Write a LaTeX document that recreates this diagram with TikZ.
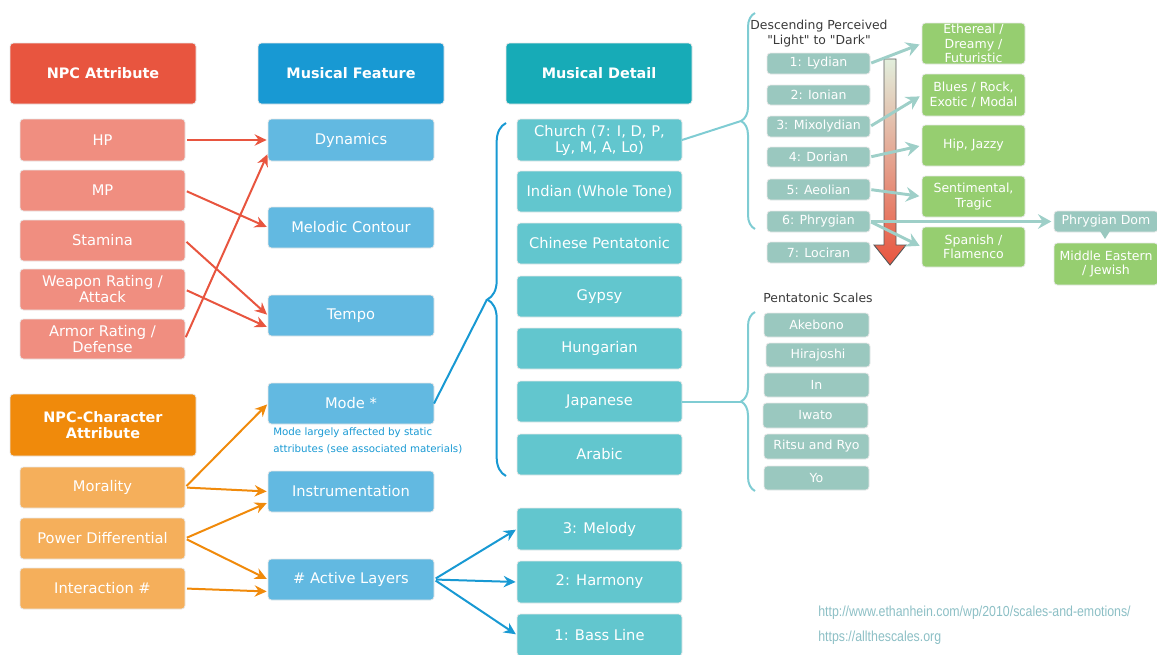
\documentclass[tikz,border=0pt]{standalone}
\usepackage{fontspec}
\setmainfont{DejaVu Sans}
\newfontfamily\plainquotes[Ligatures=TeXOff]{DejaVu Sans}
\newfontfamily\urlfont[FakeStretch=0.85]{Liberation Sans}
\usetikzlibrary{arrows.meta,calc,decorations.pathreplacing}

\definecolor{cred}{HTML}{E8553F}
\definecolor{csalmon}{HTML}{F08E80}
\definecolor{cblue}{HTML}{1899D3}
\definecolor{clblue}{HTML}{62B9E1}
\definecolor{cteal}{HTML}{17ABB7}
\definecolor{clteal}{HTML}{62C6CE}
\definecolor{corange}{HTML}{F08A0B}
\definecolor{clorange}{HTML}{F5AF5B}
\definecolor{cmode}{HTML}{9AC8BF}
\definecolor{cgreen}{HTML}{96CE70}
\definecolor{carrteal}{HTML}{9ECFC8}
\definecolor{cbrace}{HTML}{7FCCD3}
\definecolor{curl}{HTML}{8CBFC5}
\definecolor{cgtop}{HTML}{E2EEDC}
\definecolor{cdarktext}{HTML}{3A3A3A}

% box placed by its corner coordinates (in pixels of the layout grid)
\newcommand\boxat[7]{%
  \node[#6, minimum width={(#4-#2)*0.75pt}, minimum height={(#5-#3)*0.75pt}]
    (#1) at ({(#2+#4)/2},{(#3+#5)/2}) {#7};}

\begin{document}
\begin{tikzpicture}[x=0.75pt,y=-0.75pt,
  base/.style={rounded corners=2.5pt, inner sep=0pt, outer sep=0pt, align=center,
    text=white, draw=black!9, line width=0.6pt},
  headbox/.style={base, font=\fontsize{10.8}{12}\selectfont\bfseries},
  mainbox/.style={base, font=\fontsize{11}{12}\selectfont},
  smallbox/.style={base, font=\fontsize{9.4}{10.8}\selectfont},
  redarr/.style={draw=cred, line width=1.5pt, shorten <=1.5pt, shorten >=1pt,
    -{Stealth[length=9pt,width=8.5pt,inset=3pt]}},
  orarr/.style={redarr, draw=corange},
  bluearr/.style={redarr, draw=cblue},
  tealarr/.style={draw=carrteal, line width=2.2pt, shorten <=1pt, shorten >=2pt,
    -{Stealth[length=10pt,width=11pt,inset=3.5pt]}},
  link/.style={line width=1.5pt},
  bracepath/.style={decorate, line width=1.5pt},
  note/.style={inner sep=0pt, align=left}
]
\useasboundingbox (0,0) rectangle (1157,654);

% ---- column headers
\boxat{hdrA}{10}{43}{196}{104}{headbox, fill=cred}{NPC Attribute}
\boxat{hdrF}{258}{43}{444}{104}{headbox, fill=cblue}{Musical Feature}
\boxat{hdrD}{506}{43}{692}{104}{headbox, fill=cteal}{Musical Detail}
\boxat{hdrC}{10}{394}{196}{456}{headbox, fill=corange}{NPC-Character\\Attribute}

% ---- NPC attributes
\boxat{hp}{20}{119}{185}{161}{mainbox, fill=csalmon}{HP}
\boxat{mp}{20}{170}{185}{211}{mainbox, fill=csalmon}{MP}
\boxat{stamina}{20}{220}{185}{261}{mainbox, fill=csalmon}{Stamina}
\boxat{weapon}{20}{269}{185}{310}{mainbox, fill=csalmon}{Weapon Rating /\\Attack}
\boxat{armor}{20}{319}{185}{359}{mainbox, fill=csalmon}{Armor Rating /\\Defense}

% ---- NPC-character attributes
\boxat{moral}{20}{467}{185}{508}{mainbox, fill=clorange}{Morality}
\boxat{power}{20}{518}{185}{559}{mainbox, fill=clorange}{Power Differential}
\boxat{inter}{20}{568}{185}{609}{mainbox, fill=clorange}{Interaction \#}

% ---- musical features
\boxat{dyn}{268}{119}{434}{161}{mainbox, fill=clblue}{Dynamics}
\boxat{melc}{268}{207}{434}{248}{mainbox, fill=clblue}{Melodic Contour}
\boxat{tempo}{268}{295}{434}{336}{mainbox, fill=clblue}{Tempo}
\boxat{mode}{268}{383}{434}{424}{mainbox, fill=clblue}{Mode *}
\boxat{instr}{268}{471}{434}{512}{mainbox, fill=clblue}{Instrumentation}
\boxat{layers}{268}{559}{434}{600}{mainbox, fill=clblue}{\# Active Layers}
\node[note, anchor=north west, text=cblue, font=\fontsize{7.7}{12.75}\selectfont]
  (modenote) at (273,427) {Mode largely affected by static\\attributes (see associated materials)};

% ---- musical details
\boxat{church}{517}{119}{682}{161}{mainbox, fill=clteal}{Church (7: I, D, P,\\Ly, M, A, Lo)}
\boxat{indian}{517}{171}{682}{212}{mainbox, fill=clteal}{Indian (Whole Tone)}
\boxat{chinese}{517}{223}{682}{264}{mainbox, fill=clteal}{Chinese Pentatonic}
\boxat{gypsy}{517}{276}{682}{317}{mainbox, fill=clteal}{Gypsy}
\boxat{hung}{517}{328}{682}{369}{mainbox, fill=clteal}{Hungarian}
\boxat{jap}{517}{381}{682}{422}{mainbox, fill=clteal}{Japanese}
\boxat{arabic}{517}{434}{682}{475}{mainbox, fill=clteal}{Arabic}
\boxat{melody}{517}{508}{682}{550}{mainbox, fill=clteal}{3: Melody}
\boxat{harmony}{517}{561}{682}{603}{mainbox, fill=clteal}{2: Harmony}
\boxat{bass}{517}{614}{682}{656}{mainbox, fill=clteal}{1: Bass Line}

% ---- church modes
\node[inner sep=0pt, align=center, text=cdarktext, font=\plainquotes\fontsize{9.3}{11.25}\selectfont]
  (desc) at (819,33.5) {Descending Perceived\\"Light" to "Dark"};
\boxat{lyd}{767}{53}{870}{74}{smallbox, fill=cmode}{1: Lydian}
\boxat{ion}{767}{85}{870}{105}{smallbox, fill=cmode}{2: Ionian}
\boxat{mix}{767}{116}{870}{137}{smallbox, fill=cmode}{3: Mixolydian}
\boxat{dor}{767}{147}{870}{167}{smallbox, fill=cmode}{4: Dorian}
\boxat{aeo}{767}{179}{870}{200}{smallbox, fill=cmode}{5: Aeolian}
\boxat{phr}{767}{211}{870}{232}{smallbox, fill=cmode}{6: Phrygian}
\boxat{loc}{767}{242}{870}{263}{smallbox, fill=cmode}{7: Lociran}

% ---- moods
\boxat{eth}{922}{23}{1025}{64}{smallbox, fill=cgreen}{Ethereal /\\Dreamy /\\Futuristic}
\boxat{blues}{922}{74}{1025}{116}{smallbox, fill=cgreen}{Blues / Rock,\\Exotic / Modal}
\boxat{hip}{922}{125}{1025}{166}{smallbox, fill=cgreen}{Hip, Jazzy}
\boxat{sent}{922}{176}{1025}{217}{smallbox, fill=cgreen}{Sentimental,\\Tragic}
\boxat{span}{922}{227}{1025}{267}{smallbox, fill=cgreen}{Spanish /\\Flamenco}
\boxat{pdom}{1054}{211}{1158}{232}{smallbox, fill=cmode}{Phrygian Dom}
\fill[cmode] (1100,231) -- (1110,231) -- (1105,239) -- cycle;
\boxat{mideast}{1054}{243}{1158}{285}{smallbox, fill=cgreen}{Middle Eastern\\/ Jewish}

% ---- pentatonic scales
\node[inner sep=0pt, text=cdarktext, font=\fontsize{9.3}{10}\selectfont]
  (pent) at (818,298) {Pentatonic Scales};
\boxat{ake}{764}{313}{869}{337}{smallbox, fill=cmode}{Akebono}
\boxat{hira}{766}{343}{870}{367}{smallbox, fill=cmode}{Hirajoshi}
\boxat{inscale}{764}{373}{869}{397}{smallbox, fill=cmode}{In}
\boxat{iwato}{763}{403}{868}{428}{smallbox, fill=cmode}{Iwato}
\boxat{ritsu}{764}{434}{869}{459}{smallbox, fill=cmode}{Ritsu and Ryo}
\boxat{yo}{764}{466}{869}{490}{smallbox, fill=cmode}{Yo}

% ---- light-to-dark gradient arrow
\shadedraw[top color=cgtop, bottom color=cred, draw=black!65, line width=0.7pt]
  (884,59) -- (896,59) -- (896,245) -- (906,245) -- (890,265) -- (874,245)
  -- (884,245) -- cycle;

% ---- braces
\draw[bracepath, draw=cblue, decoration={brace, amplitude=14pt}] (506,476) -- (506,123);
\draw[bracepath, draw=cbrace, decoration={brace, amplitude=10.5pt}] (755,229) -- (755,13);
\draw[bracepath, draw=cbrace, decoration={brace, amplitude=10.5pt}] (755,491) -- (755,312);
\coordinate (tipD) at (487,299.5);
\coordinate (tipM) at (741,121);
\coordinate (tipP) at (741,401.5);

% ---- connectors
\draw[redarr] (hp.east) -- (dyn.west);
\draw[redarr] (mp.east) -- (melc.west);
\draw[redarr] (stamina.east) -- (tempo.west);
\draw[redarr] (weapon.east) -- ($(tempo.west)+(0,12)$);
\draw[redarr] (armor.east) -- ($(dyn.south west)+(0,-8)$);

\draw[orarr] (moral.east) -- (mode.west);
\draw[orarr] (moral.east) -- (instr.west);
\draw[orarr] (power.east) -- ($(instr.west)+(0,11)$);
\draw[orarr] (power.east) -- (layers.west);
\draw[orarr] (inter.east) -- ($(layers.west)+(0,12)$);

\draw[bluearr] (layers.east) -- (melody.west);
\draw[bluearr] (layers.east) -- (harmony.west);
\draw[bluearr] (layers.east) -- (bass.west);

\draw[link, draw=cblue] (mode.east) -- (tipD);
\draw[link, draw=cbrace] (church.east) -- (tipM);
\draw[link, draw=cbrace] (jap.east) -- (tipP);

\draw[tealarr] (lyd.east) -- (eth.west);
\draw[tealarr] (mix.east) -- (blues.west);
\draw[tealarr] (dor.east) -- (hip.west);
\draw[tealarr] (aeo.east) -- (sent.west);
\draw[tealarr] (phr.east) -- (span.west);
\draw[tealarr] (phr.east) -- (pdom.west);

% ---- sources
\node[inner sep=0pt, anchor=west, text=curl, font=\urlfont\fontsize{10.9}{12}\selectfont]
  (src1) at (818,613) {http://www.ethanhein.com/wp/2010/scales-and-emotions/};
\node[inner sep=0pt, anchor=west, text=curl, font=\urlfont\fontsize{10.9}{12}\selectfont]
  (src2) at (818,638) {https://allthescales.org};
\end{tikzpicture}
\end{document}
